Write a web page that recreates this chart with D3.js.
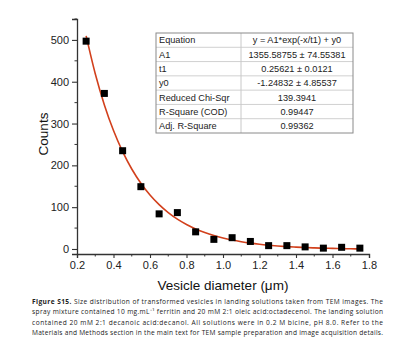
<!DOCTYPE html>
<html><head><meta charset="utf-8">
<script src="https://cdn.jsdelivr.net/npm/d3@7"></script>
<style>body{margin:0;background:#fff}svg{display:block}</style>
</head><body>
<svg id="c" width="400" height="352"></svg>
<script>
const diameters = [0.25,0.35,0.45,0.55,0.65,0.75,0.85,0.95,1.05,1.15,1.25,1.35,1.45,1.55,1.65,1.75];
const counts = [497,372,235,149,84,87,41,23,27,18,8,8,5,2,4,2];
const fitX = [0.25,0.30,0.35,0.40,0.45,0.50,0.55,0.60,0.65,0.70,0.75,0.80,0.85,0.90,0.95,1.00,1.05,1.10,1.15,1.20,1.25,1.30,1.35,1.40,1.45,1.50,1.55,1.60,1.65,1.70,1.75];
const fitY = [509.7,419.1,344.6,283.3,232.8,191.3,157.2,129.1,106.0,87.0,71.3,58.5,47.9,39.2,32.0,26.1,21.3,17.3,14.0,11.3,9.1,7.2,5.7,4.5,3.5,2.6,1.9,1.4,0.9,0.5,0.2];
const xTicks = [0.2,0.4,0.6,0.8,1.0,1.2,1.4,1.6,1.8];
const yTicks = [0,100,200,300,400,500];
const tableLabels = ["Equation","A1","t1","y0","Reduced Chi-Sqr","R-Square (COD)","Adj. R-Square"];
const tableValues = ["y = A1*exp(-x/t1) + y0","1355.58755 \u00b1 74.55381","0.25621 \u00b1 0.0121","-1.24832 \u00b1 4.85537","139.3941","0.99447","0.99362"];
const captionLines = [
  ["Figure S15.", " Size distribution of transformed vesicles in landing solutions taken from TEM images. The"],
  ["", "spray mixture contained 10 mg.mL\u207b\u00b9 ferritin and 20 mM 2:1 oleic acid:octadecenol. The landing solution"],
  ["", "contained 20 mM 2:1 decanoic acid:decanol. All solutions were in 0.2 M bicine, pH 8.0. Refer to the"],
  ["", "Materials and Methods section in the main text for TEM sample preparation and image acquisition details."]
];

const svg = d3.select("#c");
const x = d3.scaleLinear().domain([0.2,1.8]).range([77,369]);
const y = d3.scaleLinear().domain([-12,550]).range([254,19]);
const font = "Liberation Sans, Arial, sans-serif";

// axes
const xAxis = svg.append("g").attr("transform","translate(0,254)")
  .call(d3.axisBottom(x).tickValues(xTicks).tickFormat(d3.format(".1f")).tickSizeOuter(0).tickSize(4).tickPadding(3));
const yAxis = svg.append("g").attr("transform","translate(77,0)")
  .call(d3.axisLeft(y).tickValues(yTicks).tickSizeOuter(0).tickSize(5).tickPadding(3));
[xAxis,yAxis].forEach(a=>{
  a.select(".domain").attr("stroke","#333").attr("stroke-width",1.3);
  a.selectAll(".tick line").attr("stroke","#333").attr("stroke-width",1.1);
  a.selectAll("text").attr("font-family",font).attr("font-size",11).attr("fill","#222");
});
// minor ticks
const xMinor = d3.range(0.3,1.8,0.2);
svg.append("g").selectAll("line").data(xMinor).join("line")
  .attr("x1",d=>x(d)).attr("x2",d=>x(d)).attr("y1",254).attr("y2",256.5).attr("stroke","#333");
const yMinor = [50,150,250,350,450,550];
svg.append("g").selectAll("line").data(yMinor).join("line")
  .attr("y1",d=>y(d)).attr("y2",d=>y(d)).attr("x1",77).attr("x2",74.5).attr("stroke","#333");

// fit line
svg.append("path").datum(fitX.map((d,i)=>[d,fitY[i]]))
  .attr("d",d3.line().x(d=>x(d[0])).y(d=>y(d[1])).curve(d3.curveMonotoneX))
  .attr("fill","none").attr("stroke","#d2401c").attr("stroke-width",1.6);

// points
svg.append("g").selectAll("rect").data(diameters.map((d,i)=>[d,counts[i]])).join("rect")
  .attr("x",d=>x(d[0])-3.5).attr("y",d=>y(d[1])-3.5).attr("width",7).attr("height",7).attr("fill","#000");

// labels
svg.append("text").attr("x",223).attr("y",290).attr("text-anchor","middle")
  .attr("font-family",font).attr("font-size",13.5).attr("fill","#111").text("Vesicle diameter (\u03bcm)");
svg.append("text").attr("transform","translate(48,134) rotate(-90)").attr("text-anchor","middle")
  .attr("font-family",font).attr("font-size",13.5).attr("fill","#111").text("Counts");

// table
const tL=156,tR=353,tT=33,tB=133,tD=241;
const rh=(tB-tT)/tableLabels.length;
const tg = svg.append("g");
tg.selectAll("line.r").data(d3.range(1,tableLabels.length)).join("line")
  .attr("x1",tL).attr("x2",tR).attr("y1",i=>tT+i*rh).attr("y2",i=>tT+i*rh).attr("stroke","#d0d0d0").attr("stroke-width",1);
tg.append("line").attr("x1",tD).attr("x2",tD).attr("y1",tT).attr("y2",tB).attr("stroke","#c8c8c8");
tg.append("rect").attr("x",tL).attr("y",tT).attr("width",tR-tL).attr("height",tB-tT)
  .attr("fill","none").attr("stroke","#8a8a8a").attr("stroke-width",1);
tg.selectAll("text.l").data(tableLabels).join("text")
  .attr("x",tL+3).attr("y",(d,i)=>tT+i*rh+rh/2+3.3).attr("font-family",font).attr("font-size",9.2).attr("fill","#222").text(d=>d);
tg.selectAll("text.v").data(tableValues).join("text")
  .attr("x",(tD+tR)/2).attr("y",(d,i)=>tT+i*rh+rh/2+3.3).attr("text-anchor","middle")
  .attr("font-family",font).attr("font-size",9.2).attr("fill","#222").text(d=>d);

// caption
const cap = svg.append("g");
captionLines.forEach((ln,i)=>{
  const t = cap.append("text").attr("x",32).attr("y",304+i*10.3)
    .attr("font-family","Open Sans, sans-serif").attr("font-size",6.6).attr("fill","#222")
    .attr("textLength",351).attr("lengthAdjust","spacing");
  if(ln[0]) t.append("tspan").attr("font-weight","bold").text(ln[0]);
  t.append("tspan").text(ln[1]);
});
</script>
</body></html>
